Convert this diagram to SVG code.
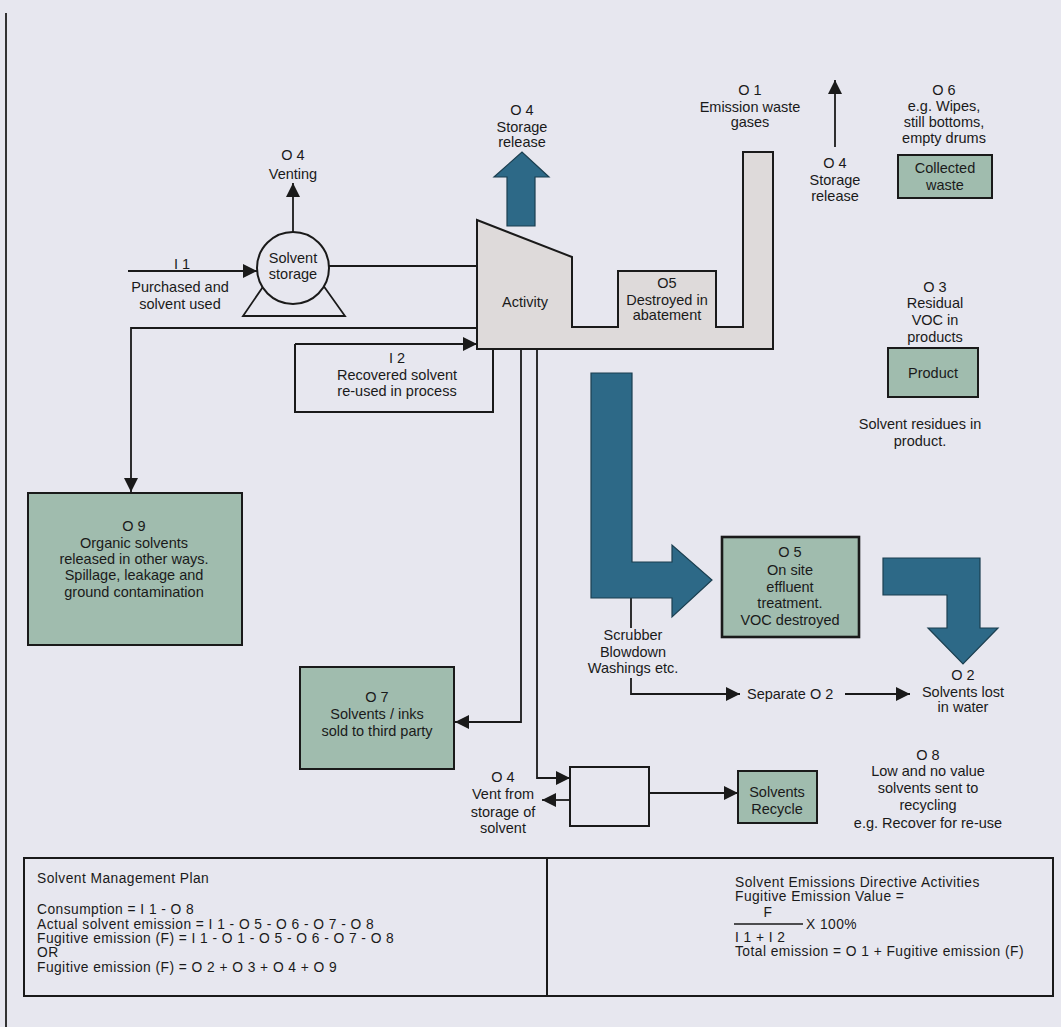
<svg xmlns="http://www.w3.org/2000/svg" width="1061" height="1027" viewBox="0 0 1061 1027">
<defs>
<style>
.t{font-family:"Liberation Sans",Arial,sans-serif;font-size:14.5px;fill:#1a1a1a;text-anchor:middle}
.s{text-anchor:start}
.e{font-size:13.8px;letter-spacing:0.45px}
.ln{fill:none;stroke:#1a1a1a;stroke-width:1.8}
.ar{fill:none;stroke:#1a1a1a;stroke-width:1.8;marker-end:url(#ah)}
.box{fill:none;stroke:#1a1a1a;stroke-width:2}
.gr{fill:#a0bcae;stroke:#1a1a1a;stroke-width:2}
.bl{fill:#2d6987;stroke:#1b3f50;stroke-width:1.2}
</style>
<marker id="ah" viewBox="0 0 10 10" refX="10" refY="5" markerWidth="15" markerHeight="14" markerUnits="userSpaceOnUse" orient="auto">
<path d="M0,0 L10,5 L0,10 z" fill="#1a1a1a"/>
</marker>
</defs>
<rect x="0" y="0" width="1061" height="1027" fill="#e7e7ef"/>
<line x1="6" y1="13" x2="6" y2="1027" stroke="#333" stroke-width="2"/>

<g id="connectors">
<path class="ar" d="M293,232 V183"/>
<path class="ar" d="M128,271 H257"/>
<path class="ln" d="M329,266 H477"/>
<path class="ar" d="M477,328 H131 V492"/>
<path class="ar" d="M295,344 H477"/>
<path class="ar" d="M835,147 V80"/>
<path class="ar" d="M521,349 V722 H455"/>
<path class="ar" d="M537,349 V778 H570"/>
<path class="ar" d="M570,800 H542"/>
<path class="ar" d="M649,793 H738"/>
<path class="ln" d="M631,598 V628"/>
<path class="ar" d="M631,678 V694 H740"/>
<path class="ar" d="M845,694 H910"/>
<polygon class="bl" points="507,226 535,226 535,177 549,177 522,152 494,177 507,177"/>
<polygon class="bl" points="591,373 632,373 632,562 672,562 672,545 712,580 672,617 672,598 591,598"/>
<polygon class="bl" points="883,558 980,558 980,628 998,628 963,664 928,628 947,628 947,595 883,595"/>
</g>

<g id="label-venting">
<text class="t" x="293" y="160">O 4</text>
<text class="t" x="293" y="179">Venting</text>
</g>
<g id="label-i1">
<text class="t" x="182" y="269">I 1</text>
<text class="t" x="180" y="292">Purchased and</text>
<text class="t" x="180" y="309">solvent used</text>
</g>

<g id="solvent-storage">
<polygon class="ln" points="243,316 345,316 293,243"/>
<circle cx="293" cy="268" r="36" fill="#e7e7ef" stroke="#1a1a1a" stroke-width="2"/>
<text class="t" x="293" y="263">Solvent</text>
<text class="t" x="293" y="279">storage</text>
</g>

<g id="recovered-solvent">
<path class="box" d="M295,344 V412 H493 V350"/>
<text class="t" x="397" y="363">I 2</text>
<text class="t" x="397" y="380">Recovered solvent</text>
<text class="t" x="397" y="396">re-used in process</text>
</g>

<g id="activity">
<polygon points="477,220 572,257 572,327 618,327 618,271 716,271 716,327 743,327 743,152 773,152 773,349 477,349" fill="#dedada" stroke="#1a1a1a" stroke-width="2"/>
<text class="t" x="525" y="307">Activity</text>
<text class="t" x="667" y="288">O5</text>
<text class="t" x="667" y="305">Destroyed in</text>
<text class="t" x="667" y="320">abatement</text>
</g>

<g id="label-storage-release">
<text class="t" x="522" y="115">O 4</text>
<text class="t" x="522" y="132">Storage</text>
<text class="t" x="522" y="147">release</text>
</g>

<g id="label-o1">
<text class="t" x="750" y="95">O 1</text>
<text class="t" x="750" y="112">Emission waste</text>
<text class="t" x="750" y="127">gases</text>
</g>

<g id="label-storage-release-2">
<text class="t" x="835" y="168">O 4</text>
<text class="t" x="835" y="185">Storage</text>
<text class="t" x="835" y="201">release</text>
</g>

<g id="collected-waste">
<text class="t" x="944" y="95">O 6</text>
<text class="t" x="944" y="111">e.g. Wipes,</text>
<text class="t" x="944" y="127">still bottoms,</text>
<text class="t" x="944" y="143">empty drums</text>
<rect class="gr" x="898" y="155" width="94" height="43"/>
<text class="t" x="945" y="173">Collected</text>
<text class="t" x="945" y="190">waste</text>
</g>

<g id="product">
<text class="t" x="935" y="292">O 3</text>
<text class="t" x="935" y="308">Residual</text>
<text class="t" x="935" y="325">VOC in</text>
<text class="t" x="935" y="342">products</text>
<rect class="gr" x="888" y="348" width="90" height="49"/>
<text class="t" x="933" y="378">Product</text>
<text class="t" x="920" y="429">Solvent residues in</text>
<text class="t" x="920" y="446">product.</text>
</g>

<g id="o9">
<rect class="gr" x="28" y="493" width="214" height="152"/>
<text class="t" x="134" y="531">O 9</text>
<text class="t" x="134" y="548">Organic solvents</text>
<text class="t" x="134" y="564">released in other ways.</text>
<text class="t" x="134" y="580">Spillage, leakage and</text>
<text class="t" x="134" y="597">ground contamination</text>
</g>

<g id="o5-effluent">
<rect x="722" y="537" width="137" height="100" fill="#a0bcae" stroke="#1a1a1a" stroke-width="2.6"/>
<text class="t" x="790" y="557">O 5</text>
<text class="t" x="790" y="575">On site</text>
<text class="t" x="790" y="592">effluent</text>
<text class="t" x="790" y="608">treatment.</text>
<text class="t" x="790" y="625">VOC destroyed</text>
</g>

<g id="scrubber">
<text class="t" x="633" y="640">Scrubber</text>
<text class="t" x="633" y="657">Blowdown</text>
<text class="t" x="633" y="673">Washings etc.</text>
</g>

<g id="separate-o2">
<text class="t s" x="747" y="699">Separate O 2</text>
</g>

<g id="o2">
<text class="t" x="963" y="680">O 2</text>
<text class="t" x="963" y="697">Solvents lost</text>
<text class="t" x="963" y="712">in water</text>
</g>

<g id="o8">
<text class="t" x="928" y="760">O 8</text>
<text class="t" x="928" y="776">Low and no value</text>
<text class="t" x="928" y="793">solvents sent to</text>
<text class="t" x="928" y="810">recycling</text>
<text class="t" x="928" y="828">e.g. Recover for re-use</text>
</g>

<g id="o7">
<rect class="gr" x="300" y="667" width="154" height="102"/>
<text class="t" x="377" y="702">O 7</text>
<text class="t" x="377" y="719">Solvents / inks</text>
<text class="t" x="377" y="736">sold to third party</text>
</g>

<g id="vent-box">
<rect class="box" x="570" y="767" width="79" height="59"/>
</g>

<g id="label-vent">
<text class="t" x="503" y="782">O 4</text>
<text class="t" x="503" y="799">Vent from</text>
<text class="t" x="503" y="817">storage of</text>
<text class="t" x="503" y="833">solvent</text>
</g>

<g id="solvents-recycle">
<rect class="gr" x="738" y="771" width="79" height="52"/>
<text class="t" x="777" y="797">Solvents</text>
<text class="t" x="777" y="814">Recycle</text>
</g>

<g id="equations">
<rect class="box" x="24" y="858" width="1029" height="138"/>
<line class="box" x1="547" y1="858" x2="547" y2="996"/>
<text class="t s e" x="37" y="883">Solvent Management Plan</text>
<text class="t s e" x="37" y="914">Consumption = I 1 - O 8</text>
<text class="t s e" x="37" y="929">Actual solvent emission = I 1 - O 5 - O 6 - O 7 - O 8</text>
<text class="t s e" x="37" y="943">Fugitive emission (F) = I 1 - O 1 - O 5 - O 6 - O 7 - O 8</text>
<text class="t s e" x="37" y="957">OR</text>
<text class="t s e" x="37" y="972">Fugitive emission (F) = O 2 + O 3 + O 4 + O 9</text>
<text class="t s e" x="735" y="887">Solvent Emissions Directive Activities</text>
<text class="t s e" x="735" y="901">Fugitive Emission Value =</text>
<text class="t e" x="768" y="917">F</text>
<line x1="734" y1="924" x2="803" y2="924" stroke="#1a1a1a" stroke-width="1.5"/>
<text class="t s e" x="806" y="929">X 100%</text>
<text class="t s e" x="735" y="942">I 1 + I 2</text>
<text class="t s e" x="735" y="956">Total emission = O 1 + Fugitive emission (F)</text>
</g>
</svg>
